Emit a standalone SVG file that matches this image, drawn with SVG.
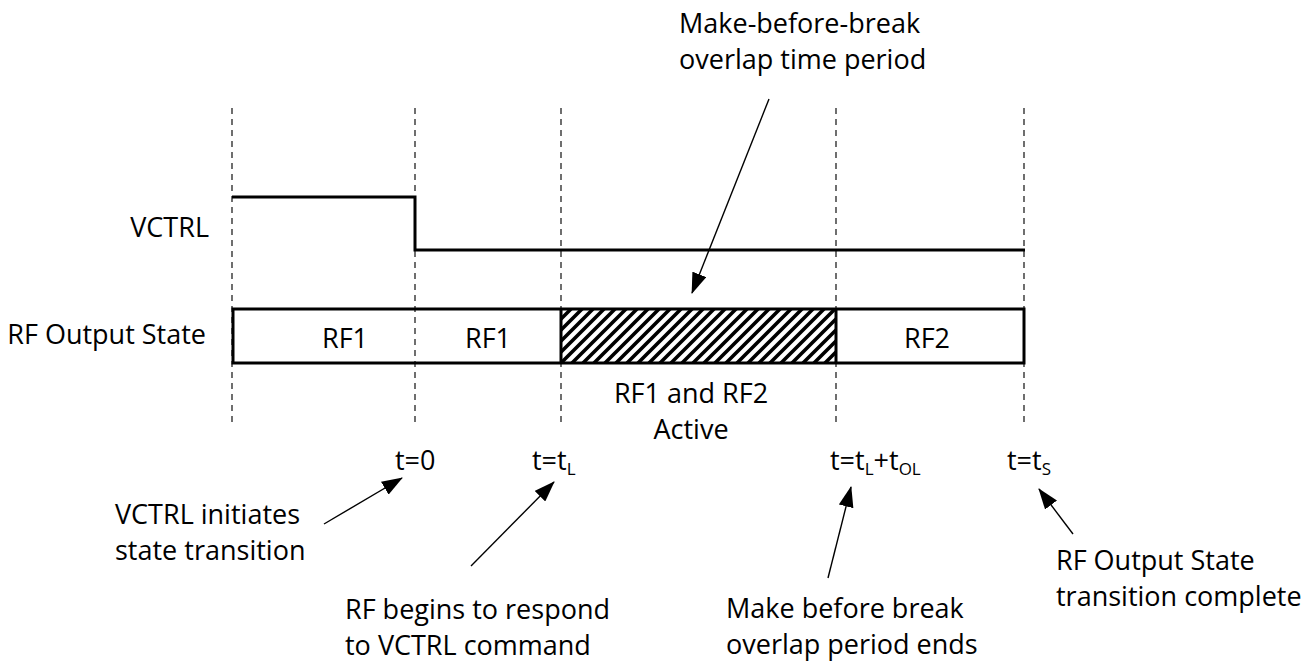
<svg xmlns="http://www.w3.org/2000/svg" width="1311" height="665" viewBox="0 0 1311 665">
  <style>
    text { font-family: "Open Sans", "Liberation Sans", sans-serif; font-size: 27px; fill: #000; }
    .mid { text-anchor: middle; }
    .guide { stroke: #222; stroke-width: 1.3; stroke-dasharray: 6 5; fill: none; }
    .sig { stroke: #000; stroke-width: 3; fill: none; stroke-linejoin: miter; }
    .ptr { stroke: #000; stroke-width: 1.4; fill: none; marker-end: url(#head); }
    .sub { font-size: 17px; }
  </style>
  <defs>
    <marker id="head" viewBox="0 0 21 15" refX="20" refY="7.5" markerWidth="21" markerHeight="15" markerUnits="userSpaceOnUse" orient="auto">
      <path d="M0,0 L21,7.5 L0,15 Z" fill="#000"/>
    </marker>
    <pattern id="hatch" patternUnits="userSpaceOnUse" width="11" height="11">
      <path d="M-2,2 L2,-2 M0,11 L11,0 M9,13 L13,9" stroke="#000" stroke-width="3.6"/>
    </pattern>
  </defs>

  <!-- time markers -->
  <g id="guides">
    <line class="guide" x1="232" y1="108" x2="232" y2="424"/>
    <line class="guide" x1="415" y1="108" x2="415" y2="424"/>
    <line class="guide" x1="561" y1="108" x2="561" y2="424"/>
    <line class="guide" x1="836" y1="108" x2="836" y2="424"/>
    <line class="guide" x1="1024" y1="108" x2="1024" y2="424"/>
  </g>

  <!-- control signal -->
  <g id="vctrl">
    <text x="209" y="237" text-anchor="end">VCTRL</text>
    <polyline class="sig" points="232,197 415,197 415,250 1025,250"/>
  </g>

  <!-- output state bar -->
  <g id="rf-state">
    <text x="206" y="344" text-anchor="end">RF Output State</text>
    <rect x="561" y="309" width="275" height="54" fill="url(#hatch)"/>
    <rect class="sig" x="233" y="309" width="791" height="54"/>
    <line class="sig" x1="561" y1="309" x2="561" y2="363"/>
    <line class="sig" x1="836" y1="309" x2="836" y2="363"/>
    <text class="mid" x="345" y="348">RF1</text>
    <text class="mid" x="488" y="348">RF1</text>
    <text class="mid" x="927" y="348">RF2</text>
  </g>

  <g id="overlap-label">
    <text class="mid" x="691" y="403">RF1 and RF2</text>
    <text class="mid" x="691" y="439">Active</text>
  </g>

  <g id="mbb-label">
    <text x="679" y="33">Make-before-break</text>
    <text x="679" y="69">overlap time period</text>
  </g>

  <!-- time instants -->
  <g id="t0"><text x="395" y="470">t=0</text></g>
  <g id="tl"><text x="532" y="470">t=t<tspan class="sub" dy="5">L</tspan></text></g>
  <g id="tol"><text x="830" y="470">t=t<tspan class="sub" dy="5">L</tspan><tspan dy="-5">+t</tspan><tspan class="sub" dy="5">OL</tspan></text></g>
  <g id="ts"><text x="1007" y="470">t=t<tspan class="sub" dy="5">S</tspan></text></g>

  <!-- annotations -->
  <g id="note-initiate">
    <text x="115" y="524">VCTRL initiates</text>
    <text x="115" y="560">state transition</text>
  </g>
  <g id="note-respond">
    <text x="345" y="619">RF begins to respond</text>
    <text x="345" y="655">to VCTRL command</text>
  </g>
  <g id="note-ends">
    <text x="726" y="618">Make before break</text>
    <text x="726" y="654">overlap period ends</text>
  </g>
  <g id="note-complete">
    <text x="1056" y="570">RF Output State</text>
    <text x="1056" y="606">transition complete</text>
  </g>

  <g id="connectors">
    <line class="ptr" x1="769" y1="99" x2="692" y2="293"/>
    <line class="ptr" x1="324" y1="524" x2="402" y2="478"/>
    <line class="ptr" x1="471" y1="566" x2="554" y2="482"/>
    <line class="ptr" x1="828" y1="578" x2="851" y2="487"/>
    <line class="ptr" x1="1073" y1="534" x2="1039" y2="489"/>
  </g>
</svg>
